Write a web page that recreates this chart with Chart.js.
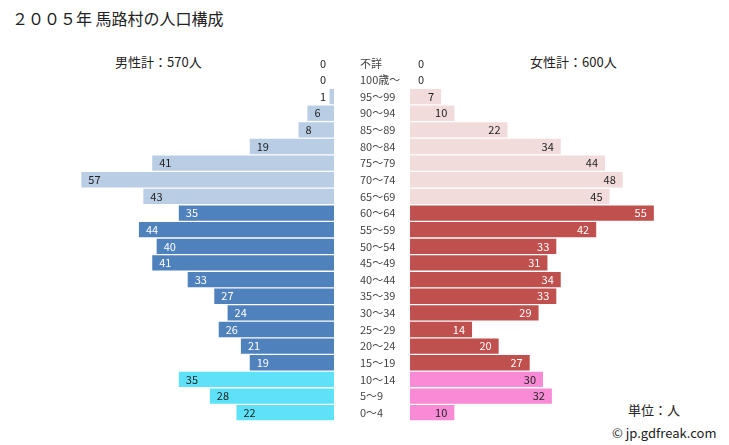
<!DOCTYPE html>
<html>
<head>
<meta charset="utf-8">
<script src="https://cdn.jsdelivr.net/npm/chart.js@4.4.1/dist/chart.umd.min.js"></script>
<style>
  body { margin: 0; background: #fff; font-family: "Noto Sans CJK JP", "Noto Sans", sans-serif; }
  #wrap { position: relative; width: 729px; height: 445px; overflow: hidden; }
  .txt { position: absolute; color: #222; white-space: nowrap; }
  #maleBox { position: absolute; left: 0; top: 0; width: 340px; height: 445px; }
  #femaleBox { position: absolute; left: 360px; top: 0; width: 369px; height: 445px; }
</style>
</head>
<body>
<div id="wrap">
  <div class="txt" style="left:12px;top:6px;font-size:16px;">２００５年 馬路村の人口構成</div>
  <div class="txt" style="left:115px;top:52px;font-size:13px;">男性計：570人</div>
  <div class="txt" style="left:530px;top:52px;font-size:13px;">女性計：600人</div>
  <div class="txt" style="left:628px;top:400px;font-size:13px;">単位：人</div>
  <div class="txt" style="left:612px;top:423px;font-size:13px;">© jp.gdfreak.com</div>
  <div id="maleBox"><canvas id="maleChart"></canvas></div>
  <div id="femaleBox"><canvas id="femaleChart"></canvas></div>
</div>
<script>
// 年齢階級
const ageLabels = ['不詳', '100歳～', '95～99', '90～94', '85～89', '80～84', '75～79', '70～74', '65～69',
  '60～64', '55～59', '50～54', '45～49', '40～44', '35～39', '30～34', '25～29', '20～24', '15～19',
  '10～14', '5～9', '0～4'];
const maleValues = [0, 0, 1, 6, 8, 19, 41, 57, 43, 35, 44, 40, 41, 33, 27, 24, 26, 21, 19, 35, 28, 22];
const femaleValues = [0, 0, 7, 10, 22, 34, 44, 48, 45, 55, 42, 33, 31, 34, 33, 29, 14, 20, 27, 30, 32, 10];
const axisMax = 60;

// 色 (高齢 / 生産年齢 / 年少)
function groupOf(i) {
  if (i <= 8) return 0;
  if (i <= 18) return 1;
  return 2;
}
const maleColors = ['#b9cde5', '#4f81bd', '#5ee2f9'];
const femaleColors = ['#f2dcdb', '#c0504d', '#f98ad6'];
const labelColors = ['#222', '#fff', '#222'];

// 数値ラベル
const valueLabels = {
  id: 'valueLabels',
  afterDatasetsDraw(chart, args, opts) {
    const ctx = chart.ctx;
    const meta = chart.getDatasetMeta(0);
    const values = chart.data.datasets[0].data;
    ctx.save();
    ctx.font = '11px "Noto Sans CJK JP", "Noto Sans", sans-serif';
    ctx.textBaseline = 'middle';
    meta.data.forEach((bar, i) => {
      const txt = String(values[i]);
      const w = ctx.measureText(txt).width;
      const inside = Math.abs(bar.x - bar.base) > w + 14;
      ctx.fillStyle = inside ? labelColors[groupOf(i)] : '#222';
      if (opts.side === 'left') {
        ctx.textAlign = 'left';
        const x = Math.min(bar.x + 7, bar.base - 8 - w);
        ctx.fillText(txt, x, bar.y);
      } else {
        ctx.textAlign = 'right';
        const x = Math.max(bar.x - 7, bar.base + 8 + w);
        ctx.fillText(txt, x, bar.y);
      }
    });
    ctx.restore();
  }
};

function makeChart(id, values, colors, side) {
  const ctx = document.getElementById(id).getContext('2d');
  const left = side === 'left';
  return new Chart(ctx, {
    type: 'bar',
    data: {
      labels: ageLabels,
      datasets: [{
        data: values,
        backgroundColor: values.map((v, i) => colors[groupOf(i)]),
        borderWidth: 0,
        barPercentage: 0.92,
        categoryPercentage: 1.0
      }]
    },
    options: {
      indexAxis: 'y',
      responsive: true,
      maintainAspectRatio: false,
      animation: false,
      layout: {
        padding: left
          ? { left: 68, right: 6, top: 55, bottom: 24 }
          : { left: 0, right: 53, top: 55, bottom: 24 }
      },
      scales: {
        x: {
          display: false,
          reverse: left,
          min: 0,
          max: axisMax
        },
        y: {
          display: !left,
          position: 'left',
          grid: { display: false, drawTicks: false },
          border: { display: false },
          ticks: {
            crossAlign: 'far',
            padding: 2,
            color: '#444',
            font: { size: 11, family: '"Noto Sans CJK JP", "Noto Sans", sans-serif' }
          },
          afterFit(axis) { if (!left) axis.width = 50; }
        }
      },
      plugins: {
        legend: { display: false },
        tooltip: { enabled: false },
        valueLabels: { side: side }
      }
    },
    plugins: [valueLabels]
  });
}

makeChart('maleChart', maleValues, maleColors, 'left');
makeChart('femaleChart', femaleValues, femaleColors, 'right');
</script>
</body>
</html>
